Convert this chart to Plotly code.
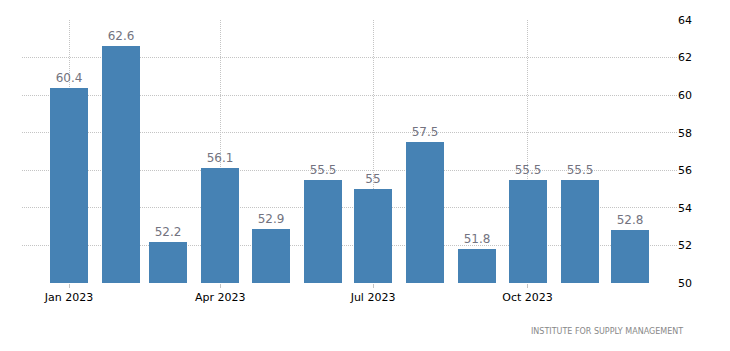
import plotly.graph_objects as go

months = ["2023-01-01", "2023-02-01", "2023-03-01", "2023-04-01", "2023-05-01", "2023-06-01",
          "2023-07-01", "2023-08-01", "2023-09-01", "2023-10-01", "2023-11-01", "2023-12-01"]
values = [60.4, 62.6, 52.2, 56.1, 52.9, 55.5, 55, 57.5, 51.8, 55.5, 55.5, 52.8]
tick_vals = ["2023-01-01", "2023-04-01", "2023-07-01", "2023-10-01"]
tick_text = ["Jan 2023", "Apr 2023", "Jul 2023", "Oct 2023"]
source = "INSTITUTE FOR SUPPLY MANAGEMENT"

FONT = "DejaVu Sans"

fig = go.Figure()
fig.add_trace(go.Bar(
    x=months, y=values,
    marker=dict(color="#4682B4", line=dict(width=0)),
    width=22.6 * 86400000,
    text=[f"{v:g}" for v in values],
    textposition="outside",
    textfont=dict(family=FONT, size=12, color="#737380"),
    cliponaxis=False,
    hoverinfo="skip",
))

fig.update_layout(
    width=730, height=351,
    margin=dict(l=22, r=53, t=20, b=68),
    plot_bgcolor="white", paper_bgcolor="white",
    showlegend=False,
    bargap=0,
    xaxis=dict(
        type="date",
        range=["2022-12-04", "2023-12-29"],
        tickvals=tick_vals, ticktext=tick_text,
        showgrid=True, gridcolor="#c4c4c4", griddash="1px,1px", gridwidth=1,
        ticks="outside", ticklen=4, tickcolor="#c4c4c4",
        tickfont=dict(family=FONT, size=11, color="#000000"),
        zeroline=False, showline=False,
    ),
    yaxis=dict(
        side="right",
        range=[50, 64],
        tickvals=[50, 52, 54, 56, 58, 60, 62, 64],
        showgrid=True, gridcolor="#c4c4c4", griddash="1px,1px", gridwidth=1,
        tickfont=dict(family=FONT, size=11, color="#000000"),
        zeroline=False, showline=False, ticks="",
    ),
    annotations=[dict(
        text=source, xref="paper", yref="paper",
        x=1.0 + 8/655, y=-0.158, xanchor="right", yanchor="top",
        showarrow=False,
        font=dict(family=FONT, size=8, color="#888888"),
    )],
)

fig.write_html("out.html")
